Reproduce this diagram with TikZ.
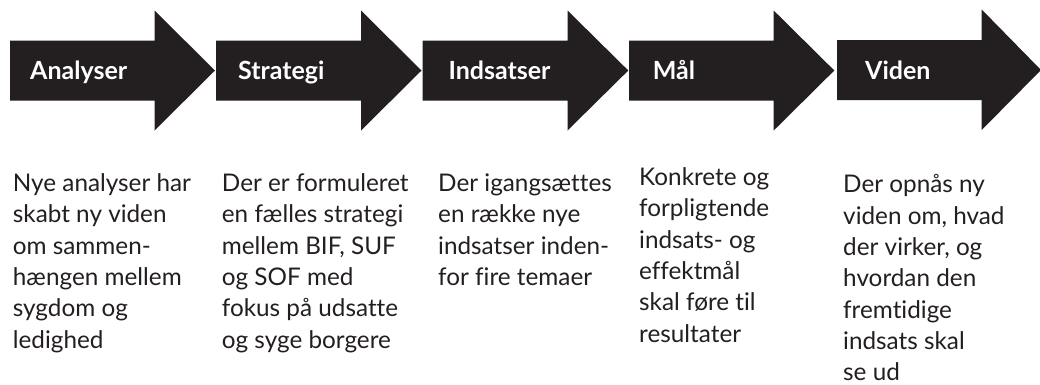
\documentclass[tikz,border=0pt]{standalone}
\usepackage{fontspec}
\setmainfont[Ligatures={NoCommon,NoRare}]{Lato}
\usepackage{tikz}

\definecolor{arrowblack}{HTML}{231F20}
\definecolor{textblack}{HTML}{231F20}

\tikzset{
  steparrow/.style={fill=arrowblack, draw=none},
  steplabel/.style={anchor=base west, inner sep=0pt, text=white,
    font=\fontsize{25}{28}\selectfont\bfseries},
  stepnote/.style={anchor=north west, inner sep=0pt, align=left, text=textblack,
    font=\fontsize{24.3}{31.3}\selectfont}
}

\begin{document}
\begin{tikzpicture}[x=1pt, y=-1pt]
\useasboundingbox (0,0) rectangle (1040,384);

% the five arrows
\fill[steparrow] (10,40.5) -- (154.5,40.5) -- (154.5,10.5) -- (215,70.5) -- (154.5,130.5) -- (154.5,100.5) -- (10,100.5) -- cycle;
\fill[steparrow] (216,40.5) -- (361,40.5) -- (361,10.5) -- (421.5,70.5) -- (361,130.5) -- (361,100.5) -- (216,100.5) -- cycle;
\fill[steparrow] (422.7,40.5) -- (567.5,40.5) -- (567.5,10.5) -- (628.3,70.5) -- (567.5,130.5) -- (567.5,100.5) -- (422.7,100.5) -- cycle;
\fill[steparrow] (629,40.5) -- (773.7,40.5) -- (773.7,10.5) -- (834.3,70.5) -- (773.7,130.5) -- (773.7,100.5) -- (629,100.5) -- cycle;
\fill[steparrow] (837,40) -- (981.7,40) -- (981.7,9.5) -- (1041,70) -- (981.7,130) -- (981.7,100) -- (837,100) -- cycle;

% labels on the arrows
\node[steplabel] (analyser) at (30,79) {Analyser};
\node[steplabel] (strategi) at (238,79) {Strategi};
\node[steplabel] (indsatser) at (448.3,79) {Indsatser};
\node[steplabel] (maal) at (652.7,79) {Mål};
\node[steplabel] (viden) at (865,79) {Viden};

% notes below
\node[stepnote] (noteanalyser) at (12.7,173.5) {Nye analyser har\\skabt ny viden\\om sammen-\\hængen mellem\\sygdom og\\ledighed};
\node[stepnote] (notestrategi) at (221.7,173.5) {Der er formuleret\\en fælles strategi\\mellem BIF, SUF\\og SOF med\\fokus på udsatte\\og syge borgere};
\node[stepnote] (noteindsatser) at (438,173.5) {Der igangsættes\\en række nye\\indsatser inden-\\for fire temaer};
\node[stepnote] (notemaal) at (639,167.5) {Konkrete og\\forpligtende\\indsats- og\\effektmål\\skal føre til\\resultater};
\node[stepnote] (noteviden) at (843,174.5) {Der opnås ny\\viden om, hvad\\der virker, og\\hvordan den\\fremtidige\\indsats skal\\se ud};
\end{tikzpicture}
\end{document}
